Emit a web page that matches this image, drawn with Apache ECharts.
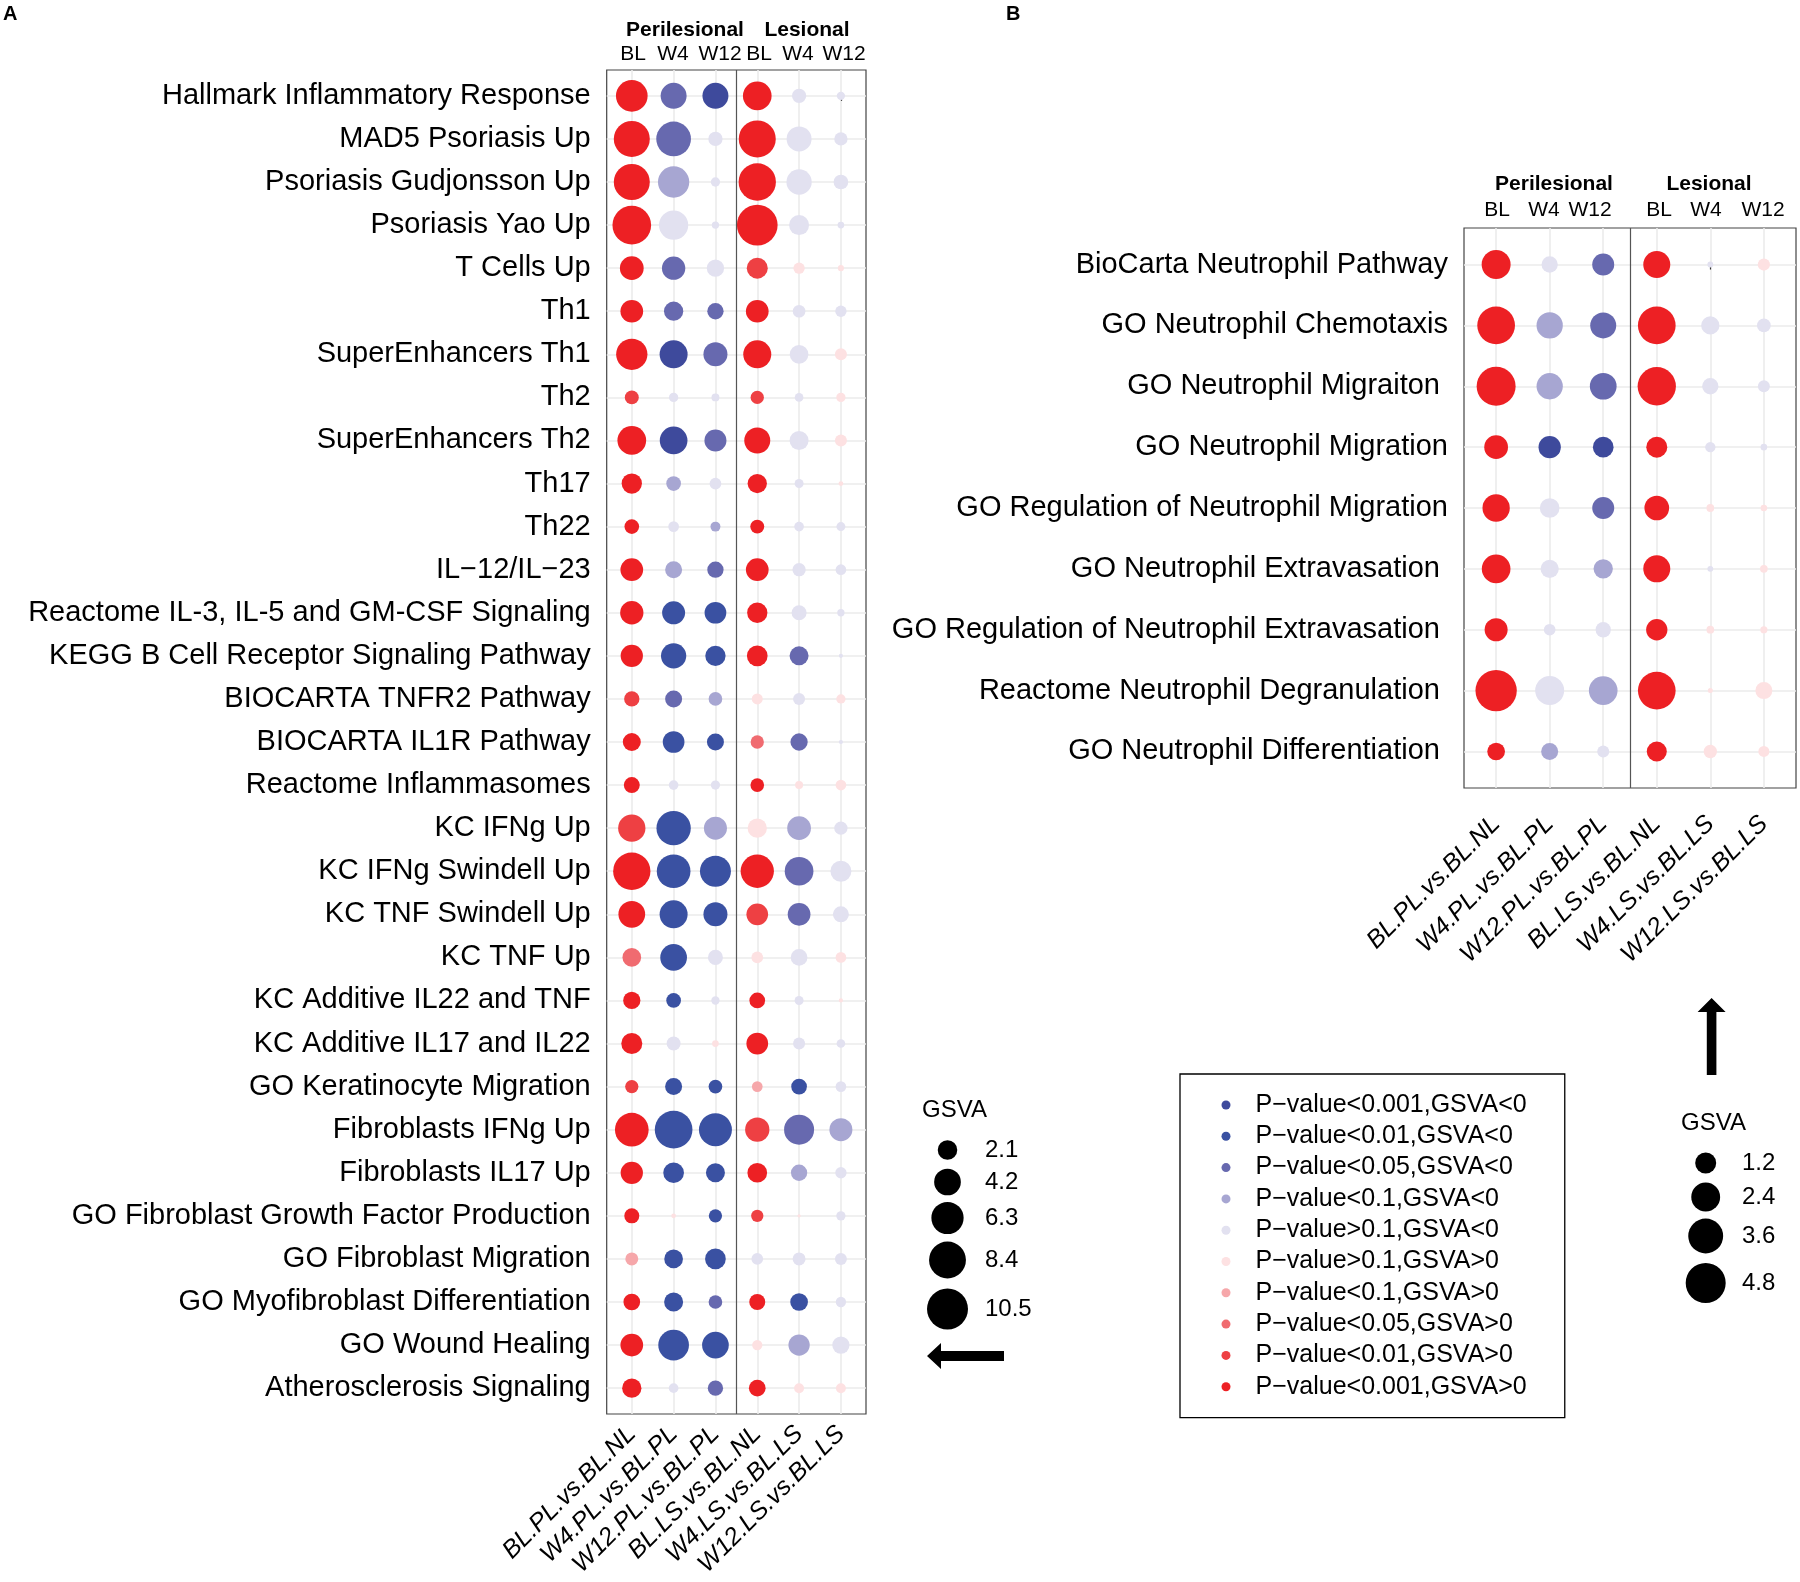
<!DOCTYPE html>
<html><head><meta charset="utf-8">
<script src="https://cdn.jsdelivr.net/npm/echarts@6/dist/echarts.min.js"></script>
<style>html,body{margin:0;padding:0;background:#fff}#c{width:1800px;height:1582px}</style>
</head><body><div id="c"></div>
<script>
// ---------------- data ----------------
const colsA = ["BL.PL.vs.BL.NL","W4.PL.vs.BL.PL","W12.PL.vs.BL.PL","BL.LS.vs.BL.NL","W4.LS.vs.BL.LS","W12.LS.vs.BL.LS"];
const colsB = colsA.slice();
const headerSub = ["BL","W4","W12","BL","W4","W12"];

const rowsA = [
"Hallmark Inflammatory Response","MAD5 Psoriasis Up","Psoriasis Gudjonsson Up","Psoriasis Yao Up",
"T Cells Up","Th1","SuperEnhancers Th1","Th2","SuperEnhancers Th2","Th17","Th22","IL\u221212/IL\u221223",
"Reactome IL-3, IL-5 and GM-CSF Signaling","KEGG B Cell Receptor Signaling Pathway","BIOCARTA TNFR2 Pathway",
"BIOCARTA IL1R Pathway","Reactome Inflammasomes","KC IFNg Up","KC IFNg Swindell Up","KC TNF Swindell Up",
"KC TNF Up","KC Additive IL22 and TNF","KC Additive IL17 and IL22","GO Keratinocyte Migration",
"Fibroblasts IFNg Up","Fibroblasts IL17 Up","GO Fibroblast Growth Factor Production","GO Fibroblast Migration",
"GO Myofibroblast Differentiation","GO Wound Healing","Atherosclerosis Signaling"];

// signed GSVA (dot size = |value|), one row per gene set, columns as colsA
const gsvaA = [
[6.08,-3.97,-3.97,4.91,-1.03,-0.27],
[7.98,-7.38,-1.03,8.46,-3.64,-0.87],
[7.98,-5.92,-0.36,8.60,-3.74,-1.10],
[9.30,-5.14,-0.19,10.35,-2.23,-0.15],
[3.24,-3.12,-1.60,2.48,0.59,0.11],
[2.95,-2.05,-1.40,2.95,-0.78,-0.59],
[5.92,-4.66,-3.33,4.66,-1.91,0.68],
[0.98,-0.36,-0.24,0.87,-0.30,0.36],
[4.91,-4.55,-2.75,3.97,-1.98,0.68],
[2.30,-1.10,-0.64,2.05,-0.33,0.05],
[1.10,-0.51,-0.43,0.98,-0.40,-0.33],
[2.95,-1.54,-1.40,2.95,-0.87,-0.51],
[3.12,-3.03,-2.67,2.30,-1.16,-0.19],
[2.83,-3.74,-2.30,2.40,-1.98,-0.03],
[1.21,-1.54,-0.93,0.55,-0.68,0.36],
[1.76,-2.67,-1.54,0.87,-1.60,-0.03],
[1.34,-0.40,-0.36,0.93,0.24,0.51],
[4.41,-7.20,-3.03,2.05,-3.24,-0.87],
[8.60,-6.93,-5.80,6.76,-4.91,-2.48],
[4.20,-4.66,-3.33,2.67,-2.95,-1.34],
[1.91,-4.20,-1.16,0.64,-1.48,0.51],
[1.60,-1.10,-0.27,1.28,-0.33,0.03],
[2.48,-0.98,0.15,2.67,-0.68,-0.30],
[0.87,-1.54,-0.93,0.51,-1.28,-0.51],
[6.93,-8.80,-6.63,3.42,-5.41,-3.03],
[2.83,-2.40,-1.98,2.15,-1.40,-0.59],
[1.16,0.05,-0.87,0.72,0.01,-0.36],
[0.82,-1.91,-2.40,-0.64,-0.82,-0.68],
[1.48,-1.98,-0.93,1.34,-1.69,-0.47],
[2.95,-5.68,-4.20,0.47,-2.56,-1.60],
[2.05,-0.40,-1.21,1.48,0.43,0.43]];

// p-value class: 1:<0.001 2:<0.01 3:<0.05 4:<0.1 5:>0.1
const pA = [
[1,3,1,1,5,5],[1,3,5,1,5,5],[1,4,5,1,5,5],[1,5,5,1,5,5],[1,3,5,2,5,5],[1,3,3,1,5,5],
[1,1,3,1,5,5],[2,5,5,2,5,5],[1,1,3,1,5,5],[1,4,5,1,5,5],[1,5,4,1,5,5],[1,4,3,1,5,5],
[1,2,2,1,5,5],[1,2,2,1,3,5],[2,3,4,5,5,5],[1,2,2,3,3,5],[1,5,5,1,5,5],[2,2,4,5,4,5],
[1,2,2,1,3,5],[1,2,2,2,3,5],[3,2,5,5,5,5],[1,2,5,1,5,5],[1,5,5,1,5,5],[2,2,2,4,2,5],
[1,2,2,2,3,4],[1,2,2,1,4,5],[1,5,2,2,5,5],[4,2,2,5,5,5],[1,2,3,1,2,5],[1,2,2,5,4,5],
[1,5,3,1,5,5]];

const rowsB = [
"BioCarta Neutrophil Pathway","GO Neutrophil Chemotaxis","GO Neutrophil Migraiton ","GO Neutrophil Migration",
"GO Regulation of Neutrophil Migration","GO Neutrophil Extravasation ","GO Regulation of Neutrophil Extravasation ",
"Reactome Neutrophil Degranulation ","GO Neutrophil Differentiation "];

const gsvaB = [
[2.42,-0.68,-1.33,2.08,-0.05,0.35],
[4.24,-1.96,-1.92,4.24,-0.88,-0.46],
[4.55,-1.96,-2.03,4.38,-0.68,-0.33],
[1.57,-1.37,-1.16,1.20,-0.23,-0.07],
[2.13,-1.04,-1.33,1.71,0.11,0.07],
[2.37,-0.88,-1.00,2.08,-0.05,0.11],
[1.47,-0.31,-0.59,1.24,0.11,0.09],
[5.14,-2.42,-2.37,4.24,0.03,0.75],
[0.82,-0.75,-0.33,1.08,0.43,0.27]];

const pB = [
[1,5,3,1,5,5],[1,4,3,1,5,5],[1,4,3,1,5,5],[1,1,1,1,5,5],[1,5,3,1,5,5],
[1,5,4,1,5,5],[1,5,5,1,5,5],[1,5,4,1,5,5],[1,4,5,1,5,5]];

const pLevels = ["P\u2212value<0.001","P\u2212value<0.01","P\u2212value<0.05","P\u2212value<0.1","P\u2212value>0.1"];
const sizeTicksA = [2.1,4.2,6.3,8.4,10.5];
const sizeTicksB = [1.2,2.4,3.6,4.8];

// ---------------- styling ----------------
const FONT = '"Liberation Sans", Arial, Helvetica, sans-serif';
const negColors = ["#3E4A9C","#3A51A2","#6769AF","#A7A6D2","#E2E1F0"];
const posColors = ["#ED2024","#EE4043","#F06B70","#F6A7AA","#FDE1E2"];
const legendOrder = [];
const colorMap = {};
for (let i=0;i<5;i++){ const n = pLevels[i]+",GSVA<0"; legendOrder.push(n); colorMap[n]=negColors[i]; }
for (let i=4;i>=0;i--){ const n = pLevels[i]+",GSVA>0"; legendOrder.push(n); colorMap[n]=posColors[i]; }

function sizeA(v){ return 2.1 + 12*Math.sqrt(Math.abs(v)); }
function sizeB(v){ return 2 + 17.34*Math.sqrt(Math.abs(v)); }
function nameOf(v,p){ return pLevels[p-1] + (v<0 ? ",GSVA<0" : ",GSVA>0"); }

function buildSeries(vals, ps, idx, sizeFn){
  const groups = {}; legendOrder.forEach(n=>groups[n]=[]);
  vals.forEach((row,r)=>row.forEach((v,c)=>{ groups[nameOf(v,ps[r][c])].push([c,r,v]); }));
  return legendOrder.map((n,k)=>{
    const s = {
      type:'scatter', name:n, xAxisIndex:idx, yAxisIndex:idx, data:groups[n], symbol:'circle',
      symbolSize:(d)=>sizeFn(d[2]), itemStyle:{color:colorMap[n], opacity:1, borderWidth:0},
      label:{show:false}, emphasis:{disabled:true}, silent:true, z:3, animation:false
    };
    if (k===legendOrder.length-1) {
      // vertical separator between perilesional (0-2) and lesional (3-5) comparisons
      s.markLine = {silent:true, symbol:['none','none'], label:{show:false}, animation:false,
        lineStyle:{color:'#555', width:1.2, type:'solid'}, emphasis:{disabled:true}, data:[{xAxis:2.5}]};
    }
    return s;
  });
}

const ints = n => Array.from({length:n},(_,i)=>i);

function xAxisDef(idx, cols, margin){
  return {type:'value', gridIndex:idx, min:-0.6, max:5.6, position:'bottom',
    axisLine:{show:false}, axisPointer:{show:false},
    axisTick:{show:true, customValues:ints(cols.length), length:5, lineStyle:{color:'#333', width:1.2}},
    axisLabel:{show:true, customValues:ints(cols.length), formatter:v=>cols[Math.round(v)], rotate:45,
      margin:margin, fontSize:25, fontStyle:'italic', color:'#000', fontFamily:FONT},
    splitLine:{show:true, lineStyle:{color:'#EBEBEB', width:1.6}}};
}
function yAxisDef(idx, rows){
  return {type:'value', gridIndex:idx, min:-0.6, max:rows.length-0.4, inverse:true,
    axisLine:{show:false}, axisPointer:{show:false},
    axisTick:{show:true, customValues:ints(rows.length), length:5, lineStyle:{color:'#333', width:1.2}},
    axisLabel:{show:true, customValues:ints(rows.length), formatter:v=>rows[Math.round(v)],
      margin:16, fontSize:29, color:'#000', fontFamily:FONT},
    splitLine:{show:true, lineStyle:{color:'#EBEBEB', width:1.6}}};
}

// ---------------- graphics (headers, size legends, arrows) ----------------
const g = [];
function txt(x,y,s,size,opts){ g.push({type:'text', x:x, y:y, silent:true,
  style:{text:s, font:(opts&&opts.bold?'bold ':'')+size+'px '+FONT, fill:'#000',
  align:(opts&&opts.align)||'center', verticalAlign:'middle'}}); }
txt(3,14,'A',20,{bold:true,align:'left'});
txt(1006,14,'B',20,{bold:true,align:'left'});
txt(685,30,'Perilesional',21,{bold:true});
txt(807,30,'Lesional',21,{bold:true});
[633,673,720,759,798,844].forEach((x,i)=>txt(x,54,headerSub[i],21));
txt(1554,184,'Perilesional',21,{bold:true});
txt(1709,184,'Lesional',21,{bold:true});
[1497,1544,1590,1659,1706,1763].forEach((x,i)=>txt(x,210,headerSub[i],21));

// size legend A
txt(922,1110,'GSVA',24,{align:'left'});
[1150,1182,1218,1260,1309].forEach((y,i)=>{
  g.push({type:'circle', silent:true, shape:{cx:947.5, cy:y, r:sizeA(sizeTicksA[i])/2}, style:{fill:'#000'}});
  txt(985,y,String(sizeTicksA[i]),24,{align:'left'});
});
// size legend B
txt(1681,1123,'GSVA',24,{align:'left'});
[1163,1197,1236,1283].forEach((y,i)=>{
  g.push({type:'circle', silent:true, shape:{cx:1705.7, cy:y, r:sizeB(sizeTicksB[i])/2}, style:{fill:'#000'}});
  txt(1742,y,String(sizeTicksB[i]),24,{align:'left'});
});
// arrows
g.push({type:'polygon', silent:true, shape:{points:[[927,1356],[941,1343],[941,1351],[1004,1351],[1004,1361],[941,1361],[941,1369]]}, style:{fill:'#000'}});
g.push({type:'polygon', silent:true, shape:{points:[[1711.6,998],[1725.6,1012],[1716.4,1012],[1716.4,1075],[1706.8,1075],[1706.8,1012],[1697.6,1012]]}, style:{fill:'#000'}});

// ---------------- chart ----------------
const chart = echarts.init(document.getElementById('c'), null, {renderer:'canvas'});
chart.setOption({
  animation:false,
  backgroundColor:'#fff',
  textStyle:{fontFamily:FONT},
  grid:[
    {left:606.7, top:70, width:259.3, height:1344, show:true, borderColor:'#444', borderWidth:1.2, backgroundColor:'transparent', containLabel:false, outerBoundsMode:'none'},
    {left:1464, top:228, width:332, height:560, show:true, borderColor:'#444', borderWidth:1.2, backgroundColor:'transparent', containLabel:false, outerBoundsMode:'none'}
  ],
  xAxis:[xAxisDef(0, colsA, 16), xAxisDef(1, colsB, 32)],
  yAxis:[yAxisDef(0, rowsA), yAxisDef(1, rowsB)],
  legend:{show:true, data:legendOrder, orient:'vertical', left:1180, top:1074,
    padding:[18,38,18,41.5], itemGap:5.3, itemWidth:9, itemHeight:9, icon:'circle',
    borderColor:'#000', borderWidth:1.3, backgroundColor:'#fff', selectedMode:false,
    textStyle:{fontSize:25, color:'#000', fontFamily:FONT, lineHeight:26, padding:[0,0,0,20]}},
  tooltip:{show:false},
  series: buildSeries(gsvaA, pA, 0, sizeA).concat(buildSeries(gsvaB, pB, 1, sizeB)),
  graphic: g
});
</script></body></html>
